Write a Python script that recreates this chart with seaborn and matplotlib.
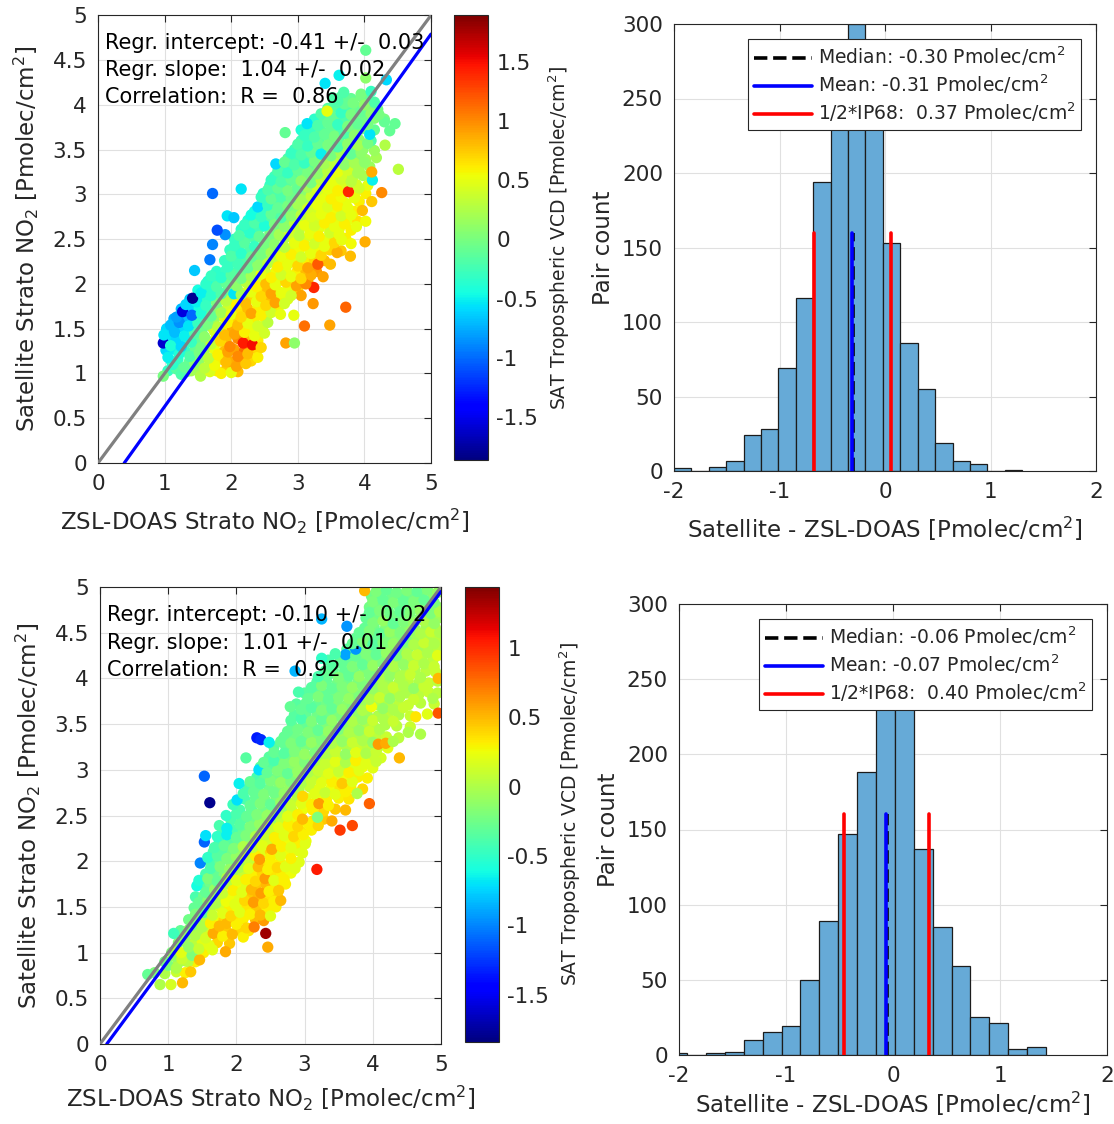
import numpy as np
import pandas as pd
import matplotlib
matplotlib.use("Agg")
import matplotlib.pyplot as plt
from matplotlib.ticker import FuncFormatter
import seaborn as sns

# ---------------- DATA ----------------
# Scatter 1 (top): ZSL-DOAS vs satellite stratospheric NO2, colour = SAT tropospheric VCD
s1_x = [0.98,1.25,1.40,1.54,1.68,1.85,2.00,
        1.12,1.30,1.45,1.60,1.75,1.92,2.08,2.22,
        1.05,1.22,1.38,1.52,1.66,1.80,1.95,2.10,2.25,2.40,
        0.98,1.09,1.25,1.40,1.55,1.70,1.84,1.98,2.18,2.32,2.45,2.82,2.95,
        0.99,1.15,1.30,1.45,1.60,1.75,1.90,2.05,2.20,2.35,2.50,
        1.09,1.22,1.36,1.50,1.65,1.80,1.95,2.10,2.25,2.40,2.55,3.10,3.48,
        1.18,1.27,1.41,1.55,1.70,1.85,2.00,2.15,2.30,2.45,2.60,2.74,2.94,
        1.32,1.48,1.62,1.78,1.92,2.08,2.22,2.38,2.52,2.66,2.80,3.05,3.23,3.72,
        1.42,1.55,1.70,1.85,2.04,2.15,2.30,2.45,2.60,2.75,2.90,3.24,
        1.62,1.78,1.92,2.08,2.22,2.38,2.52,2.66,2.82,2.98,3.12,
        1.70,1.85,2.00,2.15,2.30,2.45,2.60,2.75,2.90,3.05,3.20,3.38,
        1.45,1.68,1.95,2.10,2.25,2.40,2.55,2.70,2.85,3.00,3.15,3.30,3.49,
        2.00,2.15,2.30,2.45,2.60,2.75,2.90,3.05,3.20,3.35,3.59,3.79,
        1.72,2.05,2.20,2.35,2.50,2.65,2.80,2.95,3.10,3.25,3.40,3.55,3.66,3.80,4.01,
        1.91,2.12,2.28,2.42,2.58,2.72,2.88,3.02,3.18,3.32,3.48,3.62,3.88,
        1.79,2.20,2.35,2.50,2.65,2.80,2.95,3.10,3.25,3.40,3.55,3.70,4.02,
        1.94,2.04,2.30,2.45,2.60,2.75,2.90,3.05,3.20,3.35,3.50,3.65,3.80,
        2.40,2.55,2.70,2.85,3.00,3.15,3.30,3.45,3.60,3.75,3.97,
        2.45,2.60,2.75,2.90,3.05,3.20,3.35,3.50,3.65,3.85,4.11,
        1.72,2.15,2.55,2.70,2.85,3.00,3.15,3.30,3.45,3.60,3.76,3.92,4.26,
        2.60,2.75,2.90,3.05,3.20,3.35,3.50,3.65,3.80,4.12,
        2.70,2.85,3.00,3.15,3.30,3.45,3.60,3.75,3.90,4.11,
        2.67,2.80,2.95,3.10,3.25,3.40,3.55,3.70,3.85,4.00,4.51,
        2.90,3.05,3.20,3.35,3.50,3.65,3.80,3.95,
        3.00,3.15,3.30,3.45,3.60,3.75,3.90,4.05,4.31,
        2.81,3.10,3.25,3.40,3.55,3.70,3.85,4.08,
        3.14,3.30,3.45,3.60,3.75,3.90,4.05,4.30,4.46,
        3.35,3.50,3.65,3.80,3.95,4.10,4.22,
        3.44,3.55,3.70,3.83,4.00,4.15,
        3.60,3.69,3.95,4.10,
        3.41,3.62,4.02,4.33,4.02]
s1_y = [0.97,0.99,1.03,0.97,1.02,1.00,1.01,
        1.10,1.07,1.12,1.06,1.09,1.13,1.08,1.11,
        1.18,1.22,1.19,1.23,1.17,1.21,1.24,1.19,1.22,1.18,
        1.34,1.31,1.30,1.35,1.29,1.33,1.36,1.30,1.34,1.32,1.29,1.34,1.34,
        1.43,1.46,1.42,1.45,1.41,1.47,1.43,1.44,1.46,1.42,1.45,
        1.54,1.57,1.53,1.56,1.55,1.52,1.57,1.54,1.56,1.53,1.57,1.53,1.54,
        1.63,1.69,1.65,1.67,1.64,1.68,1.66,1.63,1.67,1.65,1.68,1.66,1.65,
        1.77,1.80,1.76,1.79,1.81,1.77,1.78,1.80,1.76,1.79,1.78,1.87,1.78,1.74,
        1.84,1.90,1.87,1.89,1.89,1.88,1.91,1.86,1.89,1.90,1.87,1.96,
        2.00,1.97,2.01,1.98,2.02,1.97,2.00,1.99,2.02,1.98,2.00,
        2.09,2.07,2.10,2.06,2.09,2.11,2.07,2.10,2.08,2.06,2.10,2.08,
        2.15,2.27,2.19,2.22,2.18,2.21,2.23,2.19,2.22,2.20,2.18,2.22,2.22,
        2.31,2.34,2.30,2.33,2.35,2.31,2.33,2.30,2.34,2.32,2.35,2.31,
        2.44,2.43,2.46,2.42,2.45,2.44,2.41,2.46,2.43,2.45,2.42,2.46,2.49,2.45,2.47,
        2.55,2.54,2.57,2.53,2.56,2.55,2.58,2.54,2.56,2.53,2.57,2.55,2.64,
        2.60,2.66,2.68,2.65,2.67,2.64,2.68,2.66,2.65,2.68,2.64,2.67,2.70,
        2.76,2.74,2.77,2.75,2.78,2.74,2.76,2.77,2.75,2.78,2.74,2.76,2.77,
        2.86,2.88,2.85,2.87,2.89,2.85,2.88,2.86,2.87,2.85,2.82,
        2.97,2.95,2.98,2.96,2.94,2.98,2.96,2.95,2.97,2.96,2.92,
        3.01,3.06,3.05,3.07,3.04,3.06,3.08,3.05,3.06,3.04,3.03,3.07,3.02,
        3.16,3.14,3.17,3.15,3.13,3.16,3.15,3.17,3.14,3.16,
        3.26,3.24,3.27,3.25,3.23,3.26,3.25,3.27,3.24,3.25,
        3.34,3.36,3.33,3.35,3.37,3.34,3.36,3.33,3.35,3.36,3.28,
        3.46,3.44,3.47,3.45,3.43,3.46,3.45,3.47,
        3.56,3.54,3.57,3.55,3.53,3.56,3.55,3.57,3.55,
        3.69,3.66,3.64,3.67,3.65,3.68,3.66,3.67,
        3.79,3.77,3.80,3.78,3.76,3.79,3.78,3.81,3.79,
        3.90,3.88,3.91,3.89,3.92,3.90,3.89,
        3.93,4.04,4.01,4.02,4.00,4.03,
        4.04,4.14,4.12,4.15,
        4.24,4.33,4.30,4.28,4.61]
s1_c = [0.0,-0.2,0.2,0.25,0.45,0.6,0.5,
        -0.35,-0.1,0.1,0.3,0.55,0.8,0.9,0.75,
        -0.5,-0.4,-0.2,0.0,0.3,0.6,0.9,1.0,0.8,0.6,
        -1.6,-0.4,-0.6,-0.3,0.0,0.35,0.7,1.0,1.45,1.5,0.7,0.9,0.1,
        -0.55,-0.7,-0.5,-0.2,0.1,0.4,0.8,0.9,0.6,0.5,0.4,
        -0.7,-0.85,-0.55,-0.3,0.0,0.3,0.6,0.8,0.5,0.4,0.3,1.1,0.9,
        -0.8,-1.55,-1.0,-0.4,-0.1,0.2,0.5,0.7,0.9,0.6,0.4,0.5,0.5,
        -0.6,-0.5,-0.3,0.0,0.3,0.6,0.8,0.5,0.7,0.9,0.4,0.9,0.95,1.15,
        -1.8,-0.5,-0.35,-0.2,-0.55,0.2,0.5,0.7,0.9,0.5,0.4,1.4,
        -0.35,-0.2,-0.1,0.1,0.3,0.6,0.8,0.5,0.7,0.9,1.0,
        -0.3,-0.35,-0.15,0.0,0.2,0.5,0.6,0.4,0.5,0.7,0.85,0.9,
        -0.65,-0.95,-0.3,-0.25,-0.1,0.1,0.3,0.6,0.5,0.7,0.9,1.2,0.8,
        -0.2,-0.35,-0.1,0.0,0.2,0.5,0.6,0.4,0.5,0.7,0.85,0.8,
        -0.9,-0.3,-0.15,-0.3,0.0,0.1,0.3,0.5,0.6,0.4,0.5,0.7,0.5,0.55,0.85,
        -0.85,-0.2,-0.35,-0.1,0.0,0.2,0.4,0.3,0.5,0.6,0.4,0.5,0.5,
        -1.1,-0.3,-0.2,-0.4,0.0,0.1,0.3,0.5,0.4,0.6,0.5,0.6,0.55,
        -0.55,-0.65,-0.45,-0.3,-0.1,-0.2,0.1,0.3,0.45,0.5,0.6,0.4,0.5,
        -0.6,-0.3,-0.1,0.0,0.2,0.4,0.5,0.45,0.6,0.5,0.8,
        -0.3,-0.1,-0.2,-0.05,0.2,0.35,0.5,0.6,0.55,0.5,0.75,
        -1.0,-0.55,-0.2,-0.1,0.0,-0.1,0.2,0.4,0.5,0.6,1.4,0.4,1.0,
        -0.3,-0.2,-0.1,0.1,0.0,0.3,0.5,0.4,0.3,-0.5,
        -0.2,-0.3,-0.1,0.0,0.1,0.3,0.5,0.4,0.2,0.85,
        -0.6,-0.1,-0.2,-0.3,0.0,0.2,0.3,0.1,0.2,0.1,0.3,
        -0.3,-0.2,-0.1,-0.5,0.0,0.2,-0.1,0.1,
        -0.2,-0.3,-0.1,0.0,-0.2,0.1,0.2,0.0,0.25,
        -0.1,-0.3,-0.2,-0.1,0.0,-0.2,0.1,-0.55,
        -0.55,-0.2,-0.1,-0.3,0.0,-0.1,0.0,-0.1,-0.1,
        -0.2,-0.1,-0.3,0.0,-0.1,0.1,0.0,
        0.5,-0.2,-0.1,0.0,0.1,-0.2,
        -0.2,-0.2,0.0,-0.3,
        -0.55,-0.5,0.1,-0.6,-0.1]

# Scatter 1: dense core of the cloud (drawn underneath)
s1b_x = [1.05,1.18,1.33,1.48,1.62,1.78,1.93,2.10,
         1.10,1.20,1.37,1.52,1.68,1.83,1.99,2.15,2.30,
         1.02,1.15,1.31,1.46,1.60,1.75,1.90,2.04,2.20,2.36,
         1.05,1.18,1.33,1.48,1.62,1.78,1.92,2.10,2.25,2.40,
         1.03,1.15,1.29,1.43,1.57,1.72,1.88,2.02,2.17,2.32,2.47,
         1.14,1.30,1.45,1.60,1.75,1.90,2.05,2.20,2.35,2.52,
         1.25,1.38,1.52,1.66,1.80,1.95,2.10,2.25,2.40,2.55,2.70,
         1.38,1.50,1.64,1.80,1.95,2.10,2.25,2.40,2.55,2.70,2.85,
         1.50,1.65,1.80,1.96,2.10,2.25,2.40,2.55,2.70,2.85,3.00,
         1.65,1.80,1.95,2.10,2.25,2.40,2.55,2.70,2.85,3.00,3.15,
         1.78,1.92,2.08,2.22,2.38,2.52,2.68,2.82,2.98,3.12,3.28,
         1.90,2.05,2.20,2.35,2.50,2.65,2.80,2.95,3.10,3.25,3.40,
         1.98,2.12,2.28,2.42,2.58,2.72,2.88,3.02,3.18,3.32,3.48,3.65,
         2.05,2.20,2.35,2.50,2.65,2.80,2.95,3.10,3.25,3.40,3.55,3.72,
         2.15,2.28,2.42,2.58,2.72,2.88,3.02,3.18,3.32,3.48,3.62,3.80,
         2.25,2.40,2.55,2.70,2.85,3.00,3.15,3.30,3.45,3.60,3.75,3.90,
         2.35,2.50,2.65,2.80,2.95,3.10,3.25,3.40,3.55,3.70,3.85,
         2.52,2.68,2.82,2.98,3.12,3.28,3.42,3.58,3.72,3.92,
         2.48,2.62,2.78,2.92,3.08,3.22,3.38,3.52,3.68,3.85,4.02,
         2.58,2.68,2.82,2.98,3.12,3.28,3.42,3.58,3.72,3.88,4.05,
         2.65,2.78,2.92,3.08,3.22,3.38,3.52,3.68,3.82,3.98,
         2.75,2.88,3.02,3.18,3.32,3.48,3.62,3.78,3.92,4.08,
         2.85,2.98,3.12,3.28,3.42,3.58,3.72,3.88,4.02,4.18,
         2.95,3.08,3.22,3.38,3.52,3.68,3.82,3.98,4.15,
         3.05,3.18,3.32,3.48,3.62,3.78,3.92,4.10,
         3.05,3.20,3.35,3.50,3.65,3.80,3.95,4.15,4.38,
         3.25,3.40,3.55,3.70,3.85,4.00,4.15,4.30,
         3.45,3.60,3.75,3.90,4.05,4.20,
         3.52,3.65,3.80,3.95,4.05]
s1b_y = [1.03,1.05,1.02,1.04,1.06,1.03,1.05,1.02,
         1.14,1.16,1.13,1.15,1.14,1.16,1.13,1.15,1.14,
         1.26,1.27,1.25,1.28,1.26,1.27,1.25,1.27,1.26,1.28,
         1.38,1.39,1.37,1.39,1.38,1.40,1.37,1.39,1.38,1.37,
         1.50,1.49,1.51,1.49,1.50,1.51,1.49,1.50,1.51,1.49,1.50,
         1.61,1.60,1.62,1.60,1.61,1.62,1.60,1.61,1.62,1.60,
         1.72,1.71,1.73,1.71,1.72,1.73,1.71,1.72,1.73,1.71,1.72,
         1.83,1.84,1.82,1.84,1.83,1.82,1.84,1.83,1.82,1.84,1.83,
         1.93,1.94,1.92,1.94,1.93,1.92,1.94,1.93,1.92,1.94,1.93,
         2.03,2.04,2.02,2.04,2.03,2.02,2.04,2.03,2.02,2.04,2.03,
         2.14,2.15,2.13,2.15,2.14,2.13,2.15,2.14,2.13,2.15,2.14,
         2.26,2.27,2.25,2.27,2.26,2.25,2.27,2.26,2.25,2.27,2.26,
         2.38,2.39,2.37,2.39,2.38,2.37,2.39,2.38,2.37,2.39,2.38,2.37,
         2.50,2.49,2.51,2.49,2.50,2.51,2.49,2.50,2.51,2.49,2.50,2.51,
         2.61,2.60,2.62,2.60,2.61,2.62,2.60,2.61,2.62,2.60,2.61,2.60,
         2.71,2.72,2.70,2.72,2.71,2.70,2.72,2.71,2.70,2.72,2.71,2.70,
         2.81,2.82,2.80,2.82,2.81,2.80,2.82,2.81,2.80,2.82,2.81,
         2.91,2.92,2.90,2.92,2.91,2.90,2.92,2.91,2.90,2.92,
         3.01,3.00,3.02,3.00,3.01,3.02,3.00,3.01,3.02,3.00,3.01,
         3.10,3.11,3.09,3.11,3.10,3.09,3.11,3.10,3.09,3.11,3.10,
         3.20,3.21,3.19,3.21,3.20,3.19,3.21,3.20,3.19,3.21,
         3.30,3.31,3.29,3.31,3.30,3.29,3.31,3.30,3.29,3.31,
         3.40,3.41,3.39,3.41,3.40,3.39,3.41,3.40,3.39,3.41,
         3.50,3.51,3.49,3.51,3.50,3.49,3.51,3.50,3.49,
         3.60,3.61,3.59,3.61,3.60,3.59,3.61,3.60,
         3.72,3.73,3.71,3.73,3.72,3.71,3.73,3.72,3.71,
         3.84,3.85,3.83,3.85,3.84,3.83,3.85,3.84,
         3.96,3.97,3.95,3.97,3.96,3.95,
         4.08,4.09,4.07,4.09,4.08]
s1b_c = [-0.3,-0.15,0.0,0.2,0.4,0.6,0.75,0.8,
         -0.45,-0.3,-0.1,0.1,0.35,0.6,0.85,0.95,0.7,
         -0.6,-0.5,-0.3,-0.1,0.2,0.5,0.8,0.9,1.1,0.7,
         -0.55,-0.6,-0.4,-0.1,0.15,0.5,0.8,1.0,0.8,0.6,
         -0.6,-0.75,-0.6,-0.35,-0.05,0.3,0.6,0.85,0.7,0.5,0.4,
         -0.75,-0.7,-0.45,-0.15,0.15,0.45,0.7,0.85,0.6,0.45,
         -0.7,-0.6,-0.45,-0.2,0.05,0.4,0.65,0.8,0.6,0.5,0.6,
         -0.65,-0.5,-0.35,-0.15,0.15,0.45,0.7,0.55,0.8,0.6,0.45,
         -0.45,-0.35,-0.25,-0.05,0.2,0.45,0.65,0.8,0.55,0.5,0.7,
         -0.4,-0.3,-0.15,0.0,0.2,0.45,0.7,0.55,0.6,0.8,0.9,
         -0.35,-0.3,-0.2,-0.05,0.15,0.4,0.55,0.5,0.6,0.8,0.95,
         -0.3,-0.3,-0.2,-0.05,0.1,0.35,0.55,0.5,0.6,0.7,0.8,
         -0.3,-0.25,-0.2,-0.1,0.05,0.25,0.45,0.55,0.5,0.55,0.7,0.75,
         -0.3,-0.25,-0.2,-0.1,0.05,0.25,0.4,0.45,0.5,0.5,0.6,0.6,
         -0.35,-0.3,-0.25,-0.1,0.05,0.2,0.35,0.45,0.5,0.55,0.5,0.6,
         -0.4,-0.35,-0.2,-0.1,0.05,0.2,0.35,0.45,0.55,0.5,0.5,0.65,
         -0.45,-0.3,-0.2,-0.1,0.05,0.25,0.4,0.5,0.55,0.5,0.6,
         -0.3,-0.2,-0.15,0.0,0.15,0.35,0.45,0.55,0.5,0.6,
         -0.35,-0.2,-0.15,-0.05,0.1,0.25,0.4,0.5,0.55,0.5,0.6,
         -0.3,-0.25,-0.15,-0.05,0.05,0.2,0.4,0.5,0.45,0.4,0.5,
         -0.25,-0.25,-0.15,0.0,0.05,0.2,0.4,0.45,0.3,0.2,
         -0.25,-0.2,-0.2,-0.1,0.05,0.25,0.4,0.25,0.2,0.15,
         -0.2,-0.25,-0.2,-0.2,0.0,0.1,0.2,0.05,0.15,0.2,
         -0.25,-0.25,-0.15,-0.2,-0.05,0.1,0.0,0.1,0.15,
         -0.25,-0.25,-0.15,-0.05,-0.1,0.0,0.1,-0.2,
         -0.4,-0.3,-0.15,-0.1,-0.2,-0.05,0.0,-0.1,-0.1,
         -0.35,-0.15,-0.1,-0.2,-0.05,-0.05,0.05,0.0,
         -0.15,-0.15,-0.2,-0.05,0.0,0.0,
         -0.2,-0.15,-0.1,0.0,-0.1]

# Scatter 2 (bottom)
s2_x = [0.70,0.88,1.04,1.21,
        1.00,1.12,1.29,1.33,
        1.08,1.20,1.35,1.46,
        1.19,1.30,1.45,1.60,1.65,1.84,
        1.08,1.25,1.40,1.55,1.66,1.80,1.94,2.10,
        1.35,1.50,1.62,1.75,1.86,2.00,2.15,2.26,2.43,2.46,
        1.40,1.52,1.65,1.80,1.92,2.05,2.20,2.35,2.50,
        1.45,1.58,1.70,1.85,1.98,2.12,2.25,2.40,2.55,2.65,
        1.42,1.55,1.68,1.80,1.95,2.08,2.22,2.36,2.48,2.62,
        1.45,1.58,1.72,1.86,2.00,2.14,2.28,2.42,2.55,2.70,
        1.47,1.62,1.76,1.90,2.04,2.18,2.32,2.46,2.60,2.72,2.86,3.18,
        1.58,1.72,1.86,2.00,2.14,2.28,2.34,2.50,2.65,2.80,2.97,
        1.53,1.68,1.82,1.96,2.10,2.24,2.38,2.52,2.66,2.80,3.01,
        1.55,1.72,1.86,2.00,2.14,2.28,2.42,2.56,2.70,2.84,2.98,
        1.75,1.86,2.05,2.20,2.34,2.48,2.62,2.76,2.90,3.05,3.20,3.52,3.70,
        1.85,2.00,2.15,2.30,2.45,2.60,2.75,2.90,2.97,3.19,3.40,
        1.61,1.95,2.01,2.20,2.35,2.50,2.65,2.80,2.95,3.10,3.21,3.35,3.95,
        2.10,2.25,2.40,2.55,2.70,2.85,2.97,3.15,3.30,3.45,3.60,3.77,
        2.04,2.20,2.35,2.50,2.65,2.80,2.95,3.10,3.25,3.40,3.55,3.70,
        1.53,2.33,2.45,2.60,2.75,2.90,3.05,3.20,3.35,3.50,3.65,3.80,
        2.40,2.55,2.70,2.85,3.00,3.15,3.30,3.45,3.60,3.75,3.90,4.05,
        2.14,2.55,2.70,2.85,3.00,3.15,3.30,3.45,3.60,3.75,3.90,4.05,4.39,
        2.30,2.36,2.48,2.65,2.80,2.95,3.10,3.25,3.40,3.55,3.70,3.85,4.00,4.08,4.19,4.30,
        2.75,2.90,3.05,3.20,3.35,3.50,3.65,3.80,3.95,4.10,4.52,4.70,
        2.80,2.95,3.10,3.25,3.40,3.55,3.70,3.85,4.00,4.15,4.30,4.63,4.96,
        2.79,2.95,3.10,3.25,3.40,3.55,3.70,3.85,3.98,4.15,4.30,4.45,
        2.91,3.05,3.20,3.35,3.50,3.65,3.80,3.95,4.10,4.25,4.40,4.60,4.88,
        3.10,3.25,3.40,3.55,3.70,3.85,4.00,4.15,4.30,4.45,4.60,4.75,
        2.86,3.20,3.35,3.50,3.65,3.80,3.95,4.10,4.25,4.40,4.55,4.70,4.96,
        3.25,3.40,3.55,3.70,3.85,4.00,4.15,4.30,4.45,4.60,4.75,4.90,
        3.60,3.45,3.75,3.90,4.05,4.20,4.35,4.50,4.65,4.80,4.95,3.75,
        3.70,3.85,4.00,4.15,4.30,4.45,4.60,4.75,4.90,
        3.80,3.95,4.10,4.25,4.40,4.55,4.70,4.85,4.98,
        3.25,3.62,4.00,4.15,4.30,4.45,4.60,4.75,4.90,
        3.95,4.10,4.25,4.40,4.55,4.70,4.85,4.98,
        4.00,4.15,4.30,4.45,4.60,4.75,4.90,
        3.88,4.05,4.20,4.35,4.50,4.65,4.80,4.95]
s2_y = [0.76,0.65,0.65,0.67,
        0.86,0.83,0.90,0.79,
        0.96,0.93,0.97,0.92,
        1.00,1.06,1.04,1.08,1.03,1.01,
        1.21,1.17,1.19,1.16,1.21,1.18,1.20,1.17,
        1.30,1.28,1.32,1.29,1.32,1.31,1.27,1.28,1.21,1.06,
        1.42,1.44,1.41,1.43,1.40,1.44,1.42,1.41,1.40,
        1.55,1.57,1.54,1.56,1.53,1.57,1.55,1.54,1.56,1.57,
        1.73,1.66,1.69,1.65,1.68,1.66,1.69,1.65,1.67,1.68,
        1.79,1.81,1.78,1.82,1.79,1.80,1.78,1.81,1.79,1.80,
        1.98,1.92,1.94,1.91,1.93,1.92,1.94,1.91,1.93,1.94,1.92,1.91,
        2.04,2.06,2.03,2.05,2.04,2.06,2.02,2.04,2.06,2.03,2.09,
        2.21,2.15,2.17,2.14,2.16,2.15,2.17,2.13,2.16,2.15,2.19,
        2.28,2.27,2.29,2.26,2.28,2.27,2.29,2.26,2.28,2.27,2.29,
        2.39,2.36,2.40,2.38,2.41,2.39,2.37,2.40,2.38,2.41,2.39,2.34,2.39,
        2.50,2.52,2.49,2.51,2.50,2.52,2.49,2.51,2.46,2.48,2.44,
        2.64,2.62,2.67,2.61,2.63,2.62,2.64,2.61,2.63,2.62,2.63,2.61,2.63,
        2.74,2.76,2.73,2.75,2.74,2.76,2.71,2.74,2.75,2.73,2.76,2.74,
        2.85,2.87,2.85,2.88,2.86,2.87,2.85,2.88,2.86,2.87,2.85,2.87,
        2.93,3.00,2.97,2.99,2.96,2.98,2.97,2.99,2.96,2.98,2.97,2.99,
        3.08,3.10,3.07,3.09,3.08,3.10,3.07,3.09,3.08,3.10,3.07,3.09,
        3.13,3.19,3.18,3.20,3.17,3.19,3.18,3.20,3.17,3.19,3.18,3.20,3.13,
        3.35,3.33,3.30,3.31,3.29,3.31,3.30,3.32,3.29,3.31,3.30,3.32,3.30,3.28,3.29,3.31,
        3.42,3.44,3.41,3.43,3.42,3.44,3.41,3.43,3.42,3.44,3.41,3.39,
        3.54,3.56,3.53,3.55,3.54,3.56,3.53,3.55,3.54,3.56,3.53,3.58,3.62,
        3.69,3.66,3.68,3.65,3.67,3.66,3.68,3.65,3.69,3.67,3.66,3.68,
        3.85,3.78,3.80,3.77,3.79,3.78,3.80,3.77,3.79,3.78,3.80,3.77,3.78,
        3.90,3.92,3.89,3.91,3.90,3.92,3.89,3.91,3.90,3.92,3.89,3.91,
        4.08,4.02,4.04,4.01,4.03,4.02,4.04,4.01,4.03,4.02,4.04,4.01,4.00,
        4.22,4.14,4.16,4.13,4.15,4.14,4.16,4.13,4.15,4.14,4.16,4.13,
        4.26,4.27,4.25,4.27,4.26,4.28,4.25,4.27,4.26,4.28,4.25,4.32,
        4.38,4.40,4.37,4.39,4.38,4.40,4.37,4.39,4.38,
        4.50,4.52,4.49,4.51,4.50,4.52,4.49,4.51,4.50,
        4.65,4.57,4.61,4.63,4.60,4.62,4.61,4.63,4.60,
        4.72,4.74,4.71,4.73,4.72,4.74,4.71,4.73,
        4.84,4.86,4.83,4.85,4.84,4.86,4.83,
        4.96,4.95,4.97,4.94,4.96,4.95,4.97,4.94]
s2_c = [-0.3,0.0,0.15,0.5,
        -0.2,0.0,0.05,0.45,
        -0.1,0.1,-0.2,0.5,
        0.2,-0.1,0.1,0.2,0.2,0.55,
        -0.45,-0.1,0.0,0.15,0.55,0.3,0.5,0.3,
        -0.2,0.0,0.3,0.5,0.5,0.3,0.4,0.7,1.35,0.55,
        -0.2,-0.3,0.1,0.2,0.4,0.2,0.3,0.5,0.2,
        -0.3,-0.15,0.0,0.25,0.2,0.4,0.6,0.4,0.3,0.5,
        -0.6,-0.3,-0.1,0.1,0.3,0.2,0.5,0.6,0.3,0.45,
        -0.55,-0.2,-0.3,0.0,0.2,0.3,0.4,0.6,0.2,0.3,
        -1.0,-0.4,-0.2,-0.1,0.0,0.2,0.5,0.3,0.4,0.2,0.2,1.05,
        -0.5,-0.35,-0.2,-0.1,0.1,0.3,0.6,0.3,0.2,0.3,0.2,
        -1.1,-0.4,-0.3,-0.2,0.0,0.1,0.2,0.55,0.3,0.2,0.2,
        -0.7,-0.5,-0.65,-0.3,-0.2,0.0,0.1,0.3,0.2,0.4,0.3,
        -0.4,-0.65,-0.35,-0.2,-0.1,0.1,0.2,0.3,0.4,0.3,0.4,0.95,0.9,
        -0.5,-0.4,-0.3,-0.2,-0.1,0.0,0.2,0.3,0.5,-0.2,0.55,
        -1.8,-0.45,-0.7,-0.3,-0.2,-0.3,-0.1,0.1,0.2,0.3,0.6,0.3,0.8,
        -0.4,-0.3,-0.2,-0.25,-0.1,0.0,0.4,0.2,0.1,0.2,0.3,0.0,
        -0.65,-0.3,-0.35,-0.2,-0.1,-0.2,0.0,0.1,0.2,0.3,0.45,0.2,
        -1.1,-0.7,-0.3,-0.2,-0.3,-0.1,0.0,0.1,0.2,0.1,0.3,0.2,
        -0.3,-0.4,-0.2,-0.1,-0.2,0.0,0.1,0.2,0.0,0.3,0.2,0.1,
        -0.35,-0.3,-0.35,-0.2,-0.1,-0.2,0.0,0.1,-0.1,0.2,0.0,0.1,0.5,
        -1.35,-1.3,-0.65,-0.3,-0.2,-0.3,-0.1,-0.2,0.0,-0.1,0.1,0.0,-0.1,0.6,0.55,0.0,
        -0.3,-0.25,-0.2,-0.3,-0.1,-0.2,0.0,-0.1,0.1,0.0,0.0,0.0,
        -0.35,-0.4,-0.2,-0.3,-0.1,-0.2,0.0,-0.1,0.1,0.0,0.1,0.35,0.85,
        -0.3,-0.3,-0.35,-0.2,-0.3,-0.1,-0.2,0.0,0.25,-0.1,0.0,0.1,
        -0.4,-0.3,-0.2,-0.3,-0.2,-0.1,-0.2,0.0,0.1,-0.1,0.0,0.1,0.0,
        -0.35,-0.2,-0.3,-0.2,-0.1,-0.2,-0.1,0.0,0.1,0.0,-0.1,0.1,
        -0.85,-0.4,-0.3,-0.2,-0.3,-0.1,-0.2,0.0,-0.1,0.0,0.1,0.0,0.5,
        -0.5,-0.35,-0.3,-0.2,-0.3,-0.1,-0.2,0.0,-0.1,0.1,0.0,0.1,
        -0.9,-0.4,-0.3,-0.2,-0.3,-0.1,-0.2,0.0,0.1,0.0,0.2,-0.95,
        -0.3,-0.2,-0.35,-0.2,-0.1,-0.2,0.0,0.1,0.0,
        -0.3,-0.2,-0.3,-0.1,-0.2,-0.1,0.0,0.1,0.0,
        -0.85,-0.95,-0.2,-0.1,-0.3,-0.2,-0.1,0.0,-0.1,
        -0.3,-0.2,-0.25,-0.3,-0.2,-0.1,-0.2,0.0,
        -0.2,-0.3,-0.2,-0.3,-0.2,-0.3,-0.2,
        0.5,-0.2,-0.3,-0.25,-0.2,-0.3,-0.2,-0.1]

# Scatter 2: dense core of the cloud (drawn underneath)
s2b_x = [0.80,0.95,1.12,1.25,
         0.95,1.15,1.25,1.40,
         1.05,1.12,1.25,1.38,1.52,
         1.15,1.25,1.36,1.50,1.72,1.90,
         1.18,1.30,1.45,1.58,1.72,1.86,2.02,2.18,
         1.30,1.42,1.56,1.70,1.82,1.96,2.10,2.28,2.40,
         1.38,1.50,1.62,1.76,1.90,2.02,2.16,2.30,2.45,2.58,
         1.40,1.52,1.64,1.78,1.92,2.05,2.18,2.32,2.45,2.60,
         1.50,1.62,1.75,1.88,2.02,2.15,2.30,2.44,2.58,2.72,
         1.55,1.68,1.82,1.96,2.10,2.25,2.38,2.52,2.66,2.80,
         1.62,1.76,1.92,2.06,2.20,2.36,2.50,2.64,2.78,2.92,
         1.66,1.80,1.94,2.08,2.22,2.36,2.50,2.64,2.78,2.92,
         1.75,1.90,2.04,2.18,2.32,2.46,2.60,2.74,2.88,3.02,
         1.80,1.95,2.10,2.24,2.38,2.52,2.66,2.80,2.95,3.10,
         1.92,2.08,2.22,2.38,2.52,2.66,2.82,2.96,3.12,3.28,
         2.05,2.22,2.38,2.52,2.68,2.82,2.98,3.12,3.28,3.45,3.60,
         2.12,2.28,2.42,2.58,2.72,2.88,3.02,3.18,3.32,3.50,3.65,
         2.18,2.32,2.48,2.62,2.78,2.92,3.08,3.22,3.38,3.52,3.68,3.85,
         2.30,2.42,2.58,2.72,2.88,3.02,3.18,3.32,3.48,3.62,3.78,3.92,
         2.35,2.50,2.65,2.80,2.95,3.10,3.25,3.40,3.55,3.70,3.85,4.00,
         2.48,2.62,2.78,2.92,3.08,3.22,3.38,3.52,3.68,3.82,3.98,4.12,
         2.55,2.72,2.88,3.02,3.18,3.32,3.48,3.62,3.78,3.92,4.08,4.22,
         2.70,2.85,3.00,3.15,3.30,3.45,3.60,3.75,3.90,4.05,4.20,4.38,
         2.82,2.98,3.12,3.28,3.42,3.58,3.72,3.88,4.02,4.18,4.35,4.55,
         2.85,3.02,3.18,3.32,3.48,3.62,3.78,3.92,4.08,4.22,4.38,4.55,4.80,
         2.88,3.02,3.18,3.32,3.48,3.62,3.78,3.92,4.08,4.22,4.38,4.52,4.70,4.90,
         3.00,3.15,3.30,3.45,3.60,3.75,3.90,4.05,4.20,4.35,4.50,4.68,4.82,4.95,
         3.18,3.32,3.48,3.62,3.78,3.92,4.08,4.22,4.38,4.52,4.68,4.82,4.95,
         3.30,3.42,3.58,3.72,3.88,4.02,4.18,4.32,4.48,4.62,4.78,4.92,
         3.35,3.52,3.68,3.82,3.98,4.12,4.28,4.42,4.58,4.72,4.88,
         3.62,3.82,3.92,4.08,4.22,4.38,4.52,4.68,4.82,4.96,
         3.75,3.90,4.05,4.20,4.35,4.50,4.65,4.80,4.95,
         3.88,4.02,4.18,4.32,4.48,4.62,4.78,4.92,
         3.90,4.05,4.22,4.38,4.52,4.68,4.82,4.96,
         3.95,4.08,4.22,4.38,4.52,4.68,4.82,4.95,
         3.98,4.12,4.28,4.42,4.58,4.72,4.88]
s2b_y = [0.78,0.77,0.79,0.78,
         0.90,0.89,0.91,0.90,
         1.00,1.01,0.99,1.01,1.00,
         1.11,1.12,1.10,1.12,1.11,1.10,
         1.24,1.25,1.23,1.25,1.24,1.23,1.25,1.24,
         1.36,1.37,1.35,1.37,1.36,1.35,1.37,1.36,1.35,
         1.49,1.50,1.48,1.50,1.49,1.48,1.50,1.49,1.48,1.50,
         1.61,1.62,1.60,1.62,1.61,1.60,1.62,1.61,1.60,1.62,
         1.74,1.75,1.73,1.75,1.74,1.73,1.75,1.74,1.73,1.75,
         1.86,1.87,1.85,1.87,1.86,1.85,1.87,1.86,1.85,1.87,
         1.98,1.99,1.97,1.99,1.98,1.97,1.99,1.98,1.97,1.99,
         2.10,2.11,2.09,2.11,2.10,2.09,2.11,2.10,2.09,2.11,
         2.21,2.22,2.20,2.22,2.21,2.20,2.22,2.21,2.20,2.22,
         2.33,2.34,2.32,2.34,2.33,2.32,2.34,2.33,2.32,2.34,
         2.45,2.46,2.44,2.46,2.45,2.44,2.46,2.45,2.44,2.46,
         2.56,2.57,2.55,2.57,2.56,2.55,2.57,2.56,2.55,2.57,2.56,
         2.68,2.69,2.67,2.69,2.68,2.67,2.69,2.68,2.67,2.69,2.68,
         2.80,2.81,2.79,2.81,2.80,2.79,2.81,2.80,2.79,2.81,2.80,2.79,
         2.92,2.93,2.91,2.93,2.92,2.91,2.93,2.92,2.91,2.93,2.92,2.91,
         3.03,3.04,3.02,3.04,3.03,3.02,3.04,3.03,3.02,3.04,3.03,3.02,
         3.14,3.15,3.13,3.15,3.14,3.13,3.15,3.14,3.13,3.15,3.14,3.13,
         3.25,3.26,3.24,3.26,3.25,3.24,3.26,3.25,3.24,3.26,3.25,3.24,
         3.36,3.37,3.35,3.37,3.36,3.35,3.37,3.36,3.35,3.37,3.36,3.35,
         3.48,3.49,3.47,3.49,3.48,3.47,3.49,3.48,3.47,3.49,3.48,3.47,
         3.60,3.61,3.59,3.61,3.60,3.59,3.61,3.60,3.59,3.61,3.60,3.59,3.61,
         3.72,3.73,3.71,3.73,3.72,3.71,3.73,3.72,3.71,3.73,3.72,3.71,3.73,3.72,
         3.84,3.85,3.83,3.85,3.84,3.83,3.85,3.84,3.83,3.85,3.84,3.83,3.85,3.84,
         3.96,3.97,3.95,3.97,3.96,3.95,3.97,3.96,3.95,3.97,3.96,3.95,3.97,
         4.08,4.09,4.07,4.09,4.08,4.07,4.09,4.08,4.07,4.09,4.08,4.07,
         4.20,4.21,4.19,4.21,4.20,4.19,4.21,4.20,4.19,4.21,4.20,
         4.32,4.33,4.31,4.33,4.32,4.31,4.33,4.32,4.31,4.33,
         4.44,4.45,4.43,4.45,4.44,4.43,4.45,4.44,4.43,
         4.55,4.56,4.54,4.56,4.55,4.54,4.56,4.55,
         4.66,4.67,4.65,4.67,4.66,4.65,4.67,4.66,
         4.78,4.79,4.77,4.79,4.78,4.77,4.79,4.78,
         4.90,4.91,4.89,4.91,4.90,4.89,4.91]
s2b_c = [-0.2,0.0,0.1,0.3,
         -0.25,0.0,-0.05,0.3,
         -0.2,0.05,0.0,0.1,0.3,
         -0.15,-0.1,0.05,0.2,0.4,0.45,
         -0.3,-0.15,0.0,0.15,0.35,0.45,0.4,0.35,
         -0.25,-0.15,0.05,0.25,0.4,0.35,0.3,0.5,0.6,
         -0.3,-0.25,0.0,0.15,0.3,0.25,0.35,0.45,0.3,0.3,
         -0.4,-0.25,-0.05,0.1,0.25,0.2,0.45,0.5,0.35,0.4,
         -0.35,-0.25,-0.15,0.05,0.25,0.2,0.45,0.5,0.3,0.3,
         -0.4,-0.3,-0.2,-0.05,0.1,0.3,0.4,0.35,0.3,0.25,
         -0.4,-0.3,-0.2,-0.05,0.1,0.35,0.3,0.3,0.25,0.2,
         -0.4,-0.35,-0.25,-0.1,0.05,0.2,0.4,0.3,0.25,0.2,
         -0.45,-0.35,-0.25,-0.1,0.05,0.15,0.3,0.25,0.3,0.25,
         -0.45,-0.4,-0.3,-0.15,-0.05,0.1,0.25,0.3,0.35,0.3,
         -0.4,-0.35,-0.25,-0.15,-0.05,0.1,0.25,0.35,0.35,0.45,
         -0.4,-0.3,-0.25,-0.15,-0.05,0.15,0.25,0.3,0.4,0.45,0.5,
         -0.4,-0.3,-0.25,-0.2,-0.05,0.05,0.2,0.25,0.3,0.3,0.35,
         -0.4,-0.3,-0.25,-0.2,-0.1,0.0,0.1,0.2,0.25,0.35,0.3,0.4,
         -0.4,-0.3,-0.25,-0.2,-0.1,0.0,0.05,0.15,0.2,0.25,0.3,0.3,
         -0.35,-0.35,-0.25,-0.15,-0.1,-0.05,0.05,0.15,0.1,0.2,0.25,0.2,
         -0.35,-0.3,-0.25,-0.15,-0.1,-0.05,0.05,0.1,0.05,0.2,0.1,0.15,
         -0.35,-0.3,-0.25,-0.2,-0.15,-0.05,0.05,0.0,0.1,0.05,0.05,0.2,
         -0.3,-0.25,-0.25,-0.2,-0.15,-0.05,-0.05,0.0,0.0,0.05,0.1,0.05,
         -0.3,-0.3,-0.25,-0.2,-0.15,-0.1,-0.05,0.0,0.05,0.0,0.05,0.1,
         -0.35,-0.3,-0.25,-0.25,-0.2,-0.15,-0.1,-0.05,0.0,0.05,0.0,0.1,0.2,
         -0.35,-0.3,-0.3,-0.25,-0.2,-0.15,-0.1,-0.05,0.0,0.0,0.05,0.1,0.05,0.1,
         -0.35,-0.3,-0.3,-0.25,-0.2,-0.15,-0.1,-0.05,0.0,0.05,0.0,0.05,0.1,0.05,
         -0.35,-0.3,-0.25,-0.25,-0.2,-0.15,-0.1,-0.05,0.0,0.05,0.0,0.1,0.05,
         -0.35,-0.3,-0.3,-0.25,-0.2,-0.15,-0.1,-0.05,0.0,0.0,0.05,0.1,
         -0.4,-0.3,-0.3,-0.25,-0.2,-0.15,-0.1,-0.05,0.0,0.05,0.05,
         -0.35,-0.3,-0.25,-0.25,-0.2,-0.15,-0.1,-0.05,0.0,0.05,
         -0.3,-0.25,-0.3,-0.2,-0.15,-0.15,-0.05,0.0,0.05,
         -0.3,-0.25,-0.2,-0.25,-0.15,-0.1,-0.05,0.0,
         -0.3,-0.25,-0.2,-0.25,-0.2,-0.15,-0.1,-0.05,
         -0.25,-0.25,-0.3,-0.25,-0.25,-0.2,-0.15,-0.1,
         -0.25,-0.3,-0.25,-0.3,-0.25,-0.2,-0.15]

# colour limits of the two colour bars
s1_clim = [-1.86, 1.89]
s2_clim = [-1.84, 1.44]

# regression results (annotation + fitted line)
s1_intercept, s1_intercept_err = -0.41, 0.03
s1_slope, s1_slope_err = 1.04, 0.02
s1_r = 0.86
s2_intercept, s2_intercept_err = -0.10, 0.02
s2_slope, s2_slope_err = 1.01, 0.01
s2_r = 0.92

# Histogram 1 (top): bin edges start / width and counts
h1_start, h1_width = -2.0, 0.165
h1_counts = [2, 0, 3, 7, 24, 28, 69, 116, 194, 250, 300, 245, 153, 86, 55, 19, 7, 5, 0, 1]
h1_median, h1_mean, h1_ip68 = -0.30, -0.31, 0.37
h1_red = [-0.675, 0.06]

# Histogram 2 (bottom)
h2_start, h2_width = -2.1, 0.1765
h2_counts = [1, 0, 1, 2, 10, 15, 19, 50, 89, 147, 188, 285, 238, 137, 85, 59, 25, 21, 4, 5]
h2_median, h2_mean, h2_ip68 = -0.06, -0.07, 0.40
h2_red = [-0.46, 0.333]

# ---------------- STYLE ----------------
sns.set_style("white")
plt.rcParams['font.family'] = ['DejaVu Sans']
plt.rcParams['mathtext.default'] = 'regular'
TXT = '#262626'
plt.rcParams['text.color'] = TXT
plt.rcParams['axes.labelcolor'] = TXT
JET = matplotlib.colormaps['jet']

TICK_FS = 15.5
LABEL_FS = 16.5
TICK_PAD = 8

W, H = 1114, 1124
fig = plt.figure(figsize=(W / 100, H / 100), dpi=100)


def frac(l, t, r, b):
    return [l / W, 1 - b / H, (r - l) / W, (b - t) / H]


ax1 = fig.add_axes(frac(98, 15.3, 431, 463))
cax1 = fig.add_axes(frac(454, 15.3, 488, 460))
ax2 = fig.add_axes(frac(674, 24, 1096, 471))
ax3 = fig.add_axes(frac(100, 587, 441, 1044))
cax2 = fig.add_axes(frac(465, 587, 499, 1042))
ax4 = fig.add_axes(frac(679, 604, 1107, 1055))

fmt = FuncFormatter(lambda v, p: f"{v:g}")


def style_ax(ax):
    for sp in ax.spines.values():
        sp.set_color(TXT)
        sp.set_linewidth(0.8)
    ax.tick_params(direction='in', length=5, width=0.8, colors=TXT,
                   labelsize=TICK_FS, top=True, right=True, pad=TICK_PAD)
    ax.grid(True, color='#e0e0e0', linewidth=0.8)
    ax.set_axisbelow(True)


def scatter_panel(ax, cax, xs, ys, cs, clim, b, be, a, ae, r, cticks, xpad):
    df = pd.DataFrame({'x': xs, 'y': ys, 'c': cs})
    norm = plt.Normalize(clim[0], clim[1])
    sns.scatterplot(data=df, x='x', y='y', hue='c', palette=JET, hue_norm=norm,
                    s=66, linewidth=0, legend=False, ax=ax, zorder=2)
    ax.plot([0, 5], [0, 5], color='#808080', lw=2.3, zorder=3)
    x0 = -b / a
    ax.plot([x0, 5], [b + a * x0, b + a * 5], color='#0000ff', lw=2.3, zorder=3)
    ax.set_xlim(0, 5)
    ax.set_ylim(0, 5)
    ax.set_xticks([0, 1, 2, 3, 4, 5])
    ax.set_yticks(np.arange(0, 5.01, 0.5))
    ax.xaxis.set_major_formatter(fmt)
    ax.yaxis.set_major_formatter(fmt)
    style_ax(ax)
    ax.set_xlabel('ZSL-DOAS Strato NO$_2$ [Pmolec/cm$^2$]', fontsize=LABEL_FS, labelpad=xpad)
    ax.set_ylabel('Satellite Strato NO$_2$ [Pmolec/cm$^2$]', fontsize=LABEL_FS, labelpad=8)
    lines = [f"Regr. intercept: {b:.2f} +/-  {be:.2f}",
             f"Regr. slope:  {a:.2f} +/-  {ae:.2f}",
             f"Correlation:  R =  {r:.2f}"]
    for t, yy in zip(lines, [4.69, 4.39, 4.09]):
        ax.text(0.1, yy, t, fontsize=15, color='black', va='center', ha='left', zorder=5)
    sm = plt.cm.ScalarMappable(cmap=JET, norm=norm)
    cb = fig.colorbar(sm, cax=cax)
    cb.set_ticks(cticks)
    cb.ax.yaxis.set_major_formatter(fmt)
    cb.outline.set_edgecolor(TXT)
    cb.outline.set_linewidth(0.8)
    cb.ax.tick_params(direction='in', length=4, width=0.8, colors=TXT, labelsize=TICK_FS, pad=6)
    cb.set_label('SAT Tropospheric VCD [Pmolec/cm$^2$]', fontsize=13.5, color=TXT, labelpad=6)


scatter_panel(ax1, cax1, s1b_x + s1_x, s1b_y + s1_y, s1b_c + s1_c, s1_clim,
              s1_intercept, s1_intercept_err, s1_slope, s1_slope_err, s1_r,
              [-1.5, -1, -0.5, 0, 0.5, 1, 1.5], 9)
scatter_panel(ax3, cax2, s2b_x + s2_x, s2b_y + s2_y, s2b_c + s2_c, s2_clim,
              s2_intercept, s2_intercept_err, s2_slope, s2_slope_err, s2_r,
              [-1.5, -1, -0.5, 0, 0.5, 1], 6)

BAR = '#66aad7'


def hist_panel(ax, start, width, counts, median, mean, ip68, red, xpad):
    edges = [start + width * k for k in range(len(counts) + 1)]
    centers = [(edges[k] + edges[k + 1]) / 2 for k in range(len(counts))]
    hdf = pd.DataFrame({'d': centers, 'n': counts})
    sns.histplot(data=hdf, x='d', weights='n', bins=edges, ax=ax, color=BAR,
                 alpha=1, edgecolor='#1c1c1c', linewidth=0.9, zorder=2)
    ax.plot([median, median], [0, 160], color='black', lw=2.6, ls='--', zorder=3,
            label=f"Median: {median:.2f} Pmolec/cm$^2$")
    ax.plot([mean, mean], [0, 160], color='#0000ff', lw=2.6, zorder=3,
            label=f"Mean: {mean:.2f} Pmolec/cm$^2$")
    ax.plot([red[0], red[0]], [0, 160], color='#ff0000', lw=2.6, zorder=3,
            label=f"1/2*IP68:  {ip68:.2f} Pmolec/cm$^2$")
    ax.plot([red[1], red[1]], [0, 160], color='#ff0000', lw=2.6, zorder=3)
    ax.set_xlim(-2, 2)
    ax.set_ylim(0, 300)
    ax.set_xticks([-2, -1, 0, 1, 2])
    ax.set_yticks(np.arange(0, 301, 50))
    ax.xaxis.set_major_formatter(fmt)
    style_ax(ax)
    ax.set_xlabel('Satellite - ZSL-DOAS [Pmolec/cm$^2$]', fontsize=LABEL_FS, labelpad=xpad)
    ax.set_ylabel('Pair count', fontsize=LABEL_FS, labelpad=5)
    leg = ax.legend(loc='upper right', fontsize=13.5, frameon=True, fancybox=False,
                    framealpha=1, edgecolor=TXT, handlelength=3.1, borderaxespad=0.8,
                    labelspacing=0.25, handletextpad=0.3, borderpad=0.3)
    leg.get_frame().set_linewidth(0.8)
    leg.set_zorder(6)


hist_panel(ax2, h1_start, h1_width, h1_counts, h1_median, h1_mean, h1_ip68, h1_red, 9)
hist_panel(ax4, h2_start, h2_width, h2_counts, h2_median, h2_mean, h2_ip68, h2_red, 3)

fig.savefig('out.png', dpi=100)
